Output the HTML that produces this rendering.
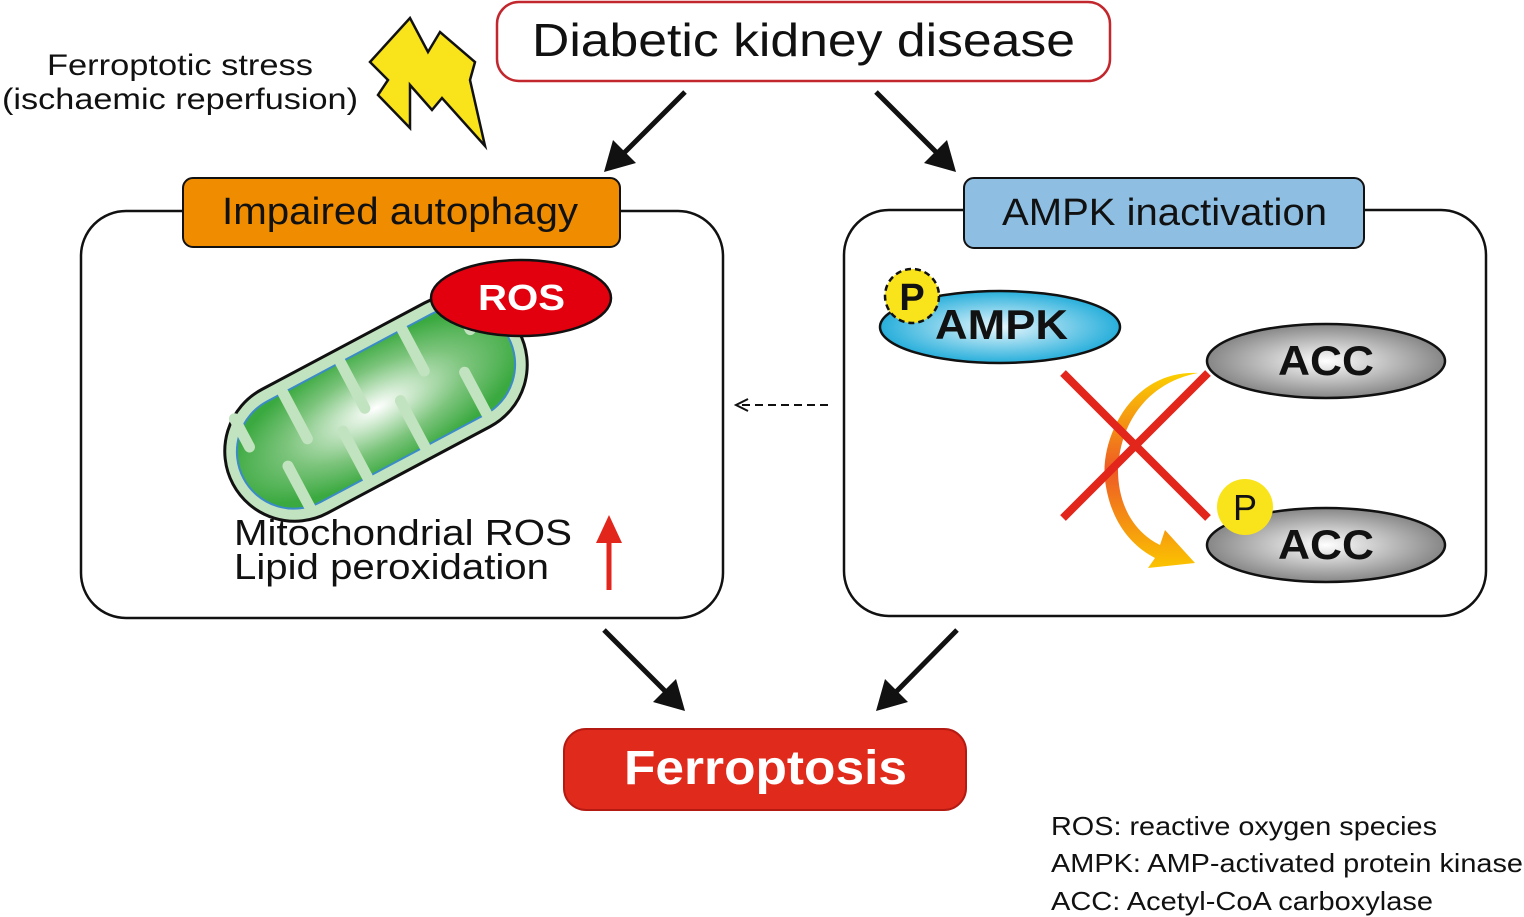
<!DOCTYPE html>
<html><head><meta charset="utf-8"><style>
html,body{margin:0;padding:0;background:#fff;}
svg{display:block;font-family:"Liberation Sans",Arial,sans-serif;}
</style></head><body>
<svg width="1524" height="917" viewBox="0 0 1524 917" xmlns="http://www.w3.org/2000/svg">
<defs>
<radialGradient id="mito" cx="0.5" cy="0.5" r="0.55">
<stop offset="0" stop-color="#ffffff"/><stop offset="0.6" stop-color="#7cc47c"/><stop offset="1" stop-color="#3aa93f"/></radialGradient>
<radialGradient id="blue" cx="0.5" cy="0.5" r="0.6">
<stop offset="0" stop-color="#e8f7fd"/><stop offset="1" stop-color="#00a0d4"/></radialGradient>
<radialGradient id="grey" cx="0.5" cy="0.5" r="0.6">
<stop offset="0" stop-color="#ffffff"/><stop offset="1" stop-color="#6e6e6e"/></radialGradient>
<linearGradient id="orng" x1="0" y1="0" x2="0" y2="1">
<stop offset="0" stop-color="#fbd000"/><stop offset="0.5" stop-color="#ee5a25"/><stop offset="1" stop-color="#fbc400"/></linearGradient>
</defs>

<rect x="497" y="2" width="613" height="79" rx="22" fill="#fff" stroke="#c1272d" stroke-width="2.5"/>
<text x="532" y="56" font-size="46" textLength="543" lengthAdjust="spacingAndGlyphs" fill="#111">Diabetic kidney disease</text>

<text x="47" y="75" font-size="30" textLength="266" lengthAdjust="spacingAndGlyphs" fill="#111">Ferroptotic stress</text>
<text x="2" y="109" font-size="30" textLength="356" lengthAdjust="spacingAndGlyphs" fill="#111">(ischaemic reperfusion)</text>

<polygon points="370,62 410,18 428,52 440,32 475,62 470,80 485,146 442,98 432,110 410,85 410,128 378,95 388,80" fill="#f9e31a" stroke="#111" stroke-width="2.5"/>

<g stroke="#111" stroke-width="5">
<line x1="685" y1="92" x2="620" y2="157"/>
<line x1="876" y1="92" x2="940" y2="156"/>
<line x1="604" y1="630" x2="670" y2="696"/>
<line x1="957" y1="630" x2="892" y2="696"/>
</g>
<g fill="#111">
<polygon points="604,172 613,140 636,163"/>
<polygon points="956,172 924,163 947,140"/>
<polygon points="685,711 653,702 676,679"/>
<polygon points="876,711 885,679 908,702"/>
</g>

<rect x="81" y="211" width="642" height="407" rx="45" fill="#fff" stroke="#111" stroke-width="2.5"/>
<rect x="183" y="178" width="437" height="69" rx="10" fill="#f08c00" stroke="#111" stroke-width="2"/>
<text x="222" y="224" font-size="38" textLength="356" lengthAdjust="spacingAndGlyphs" fill="#111">Impaired autophagy</text>

<g transform="translate(376,408) rotate(-28)">
<rect x="-162" y="-70" width="324" height="140" rx="70" fill="#c2e3bf" stroke="#111" stroke-width="3"/>
<rect x="-150" y="-57" width="300" height="114" rx="57" fill="url(#mito)" stroke="#3a8bc8" stroke-width="2"/>
<g stroke="#c2e3bf" stroke-width="11" stroke-linecap="round">
<line x1="-130" y1="-57" x2="-130" y2="-25"/>
<line x1="-75" y1="-57" x2="-75" y2="-5"/>
<line x1="-10" y1="-57" x2="-10" y2="-5"/>
<line x1="60" y1="-57" x2="60" y2="-10"/>
<line x1="120" y1="-57" x2="120" y2="-25"/>
<line x1="-105" y1="57" x2="-105" y2="10"/>
<line x1="-40" y1="57" x2="-40" y2="5"/>
<line x1="25" y1="57" x2="25" y2="5"/>
<line x1="95" y1="57" x2="95" y2="10"/>
</g>
</g>
<ellipse cx="521" cy="298" rx="90" ry="38" fill="#e2000f" stroke="#111" stroke-width="2.5"/>
<text x="478" y="310" font-size="36" font-weight="bold" textLength="87" lengthAdjust="spacingAndGlyphs" fill="#fff">ROS</text>

<text x="234" y="545" font-size="36" textLength="338" lengthAdjust="spacingAndGlyphs" fill="#111">Mitochondrial ROS</text>
<text x="234" y="579" font-size="36" textLength="315" lengthAdjust="spacingAndGlyphs" fill="#111">Lipid peroxidation</text>
<line x1="609" y1="590" x2="609" y2="540" stroke="#e2261c" stroke-width="5"/>
<polygon points="596,543 609,515 622,543" fill="#e2261c"/>

<line x1="828" y1="405" x2="742" y2="405" stroke="#111" stroke-width="2" stroke-dasharray="8,5"/>
<polyline points="748,399 736,405 748,411" fill="none" stroke="#111" stroke-width="2"/>

<rect x="844" y="210" width="642" height="406" rx="45" fill="#fff" stroke="#111" stroke-width="2.5"/>
<rect x="964" y="178" width="400" height="70" rx="10" fill="#8ebfe3" stroke="#111" stroke-width="2"/>
<text x="1002" y="225" font-size="38" textLength="325" lengthAdjust="spacingAndGlyphs" fill="#111">AMPK inactivation</text>

<ellipse cx="1000" cy="327" rx="120" ry="36" fill="url(#blue)" stroke="#111" stroke-width="2.5"/>
<circle cx="912" cy="296" r="27" fill="#f9e31a" stroke="#111" stroke-width="2.5" stroke-dasharray="6,4"/>
<text x="912" y="310" font-size="38" font-weight="bold" text-anchor="middle" fill="#111">P</text>
<text x="935" y="339" font-size="42" font-weight="bold" textLength="133" lengthAdjust="spacingAndGlyphs" fill="#111">AMPK</text>

<ellipse cx="1326" cy="361" rx="119" ry="37" fill="url(#grey)" stroke="#111" stroke-width="2.5"/>
<text x="1278" y="375" font-size="42" font-weight="bold" textLength="96" lengthAdjust="spacingAndGlyphs" fill="#111">ACC</text>
<ellipse cx="1326" cy="545" rx="119" ry="37" fill="url(#grey)" stroke="#111" stroke-width="2.5"/>
<text x="1278" y="559" font-size="42" font-weight="bold" textLength="96" lengthAdjust="spacingAndGlyphs" fill="#111">ACC</text>
<circle cx="1245" cy="507" r="28" fill="#f9e31a"/>
<text x="1245" y="520" font-size="36" text-anchor="middle" fill="#111">P</text>

<path d="M1198,373 C1130,370 1100,440 1105,480 C1110,520 1130,545 1155,558 L1148,568 L1195,563 L1165,530 L1160,545 C1130,530 1118,500 1118,470 C1120,420 1150,382 1198,373 z" fill="url(#orng)"/>

<g stroke="#e2261c" stroke-width="8">
<line x1="1063" y1="373" x2="1208" y2="518"/>
<line x1="1063" y1="518" x2="1208" y2="373"/>
</g>

<rect x="564" y="729" width="402" height="81" rx="22" fill="#df2a1c" stroke="#b51a12" stroke-width="2"/>
<text x="624" y="784" font-size="48" font-weight="bold" textLength="283" lengthAdjust="spacingAndGlyphs" fill="#fff">Ferroptosis</text>

<text x="1051" y="835" font-size="26" textLength="386" lengthAdjust="spacingAndGlyphs" fill="#111">ROS: reactive oxygen species</text>
<text x="1051" y="872" font-size="26" textLength="472" lengthAdjust="spacingAndGlyphs" fill="#111">AMPK: AMP-activated protein kinase</text>
<text x="1051" y="910" font-size="26" textLength="382" lengthAdjust="spacingAndGlyphs" fill="#111">ACC: Acetyl-CoA carboxylase</text>
</svg>
</body></html>
